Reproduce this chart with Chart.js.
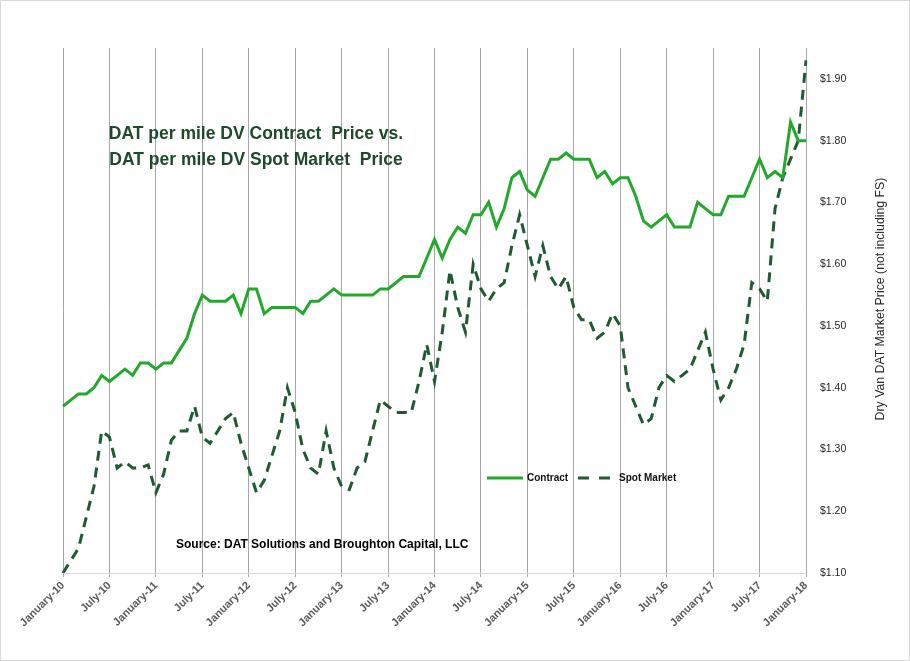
<!DOCTYPE html>
<html>
<head>
<meta charset="utf-8">
<script src="https://cdn.jsdelivr.net/npm/chart.js@4.4.1/dist/chart.umd.min.js"></script>
<style>
html,body{margin:0;padding:0;background:#fff;}
canvas{display:block;}
</style>
</head>
<body>
<canvas id="c" width="910" height="661"></canvas>
<script>
// ---- data ----
const monthNames = ["January","February","March","April","May","June","July","August","September","October","November","December"];
const categories = [];
for (let y = 10; y <= 18; y++) {
  for (let m = 0; m < 12; m++) {
    if (y === 18 && m > 0) break;
    categories.push(monthNames[m] + "-" + y);
  }
}
const contract = [
  1.37,1.38,1.39,1.39,1.40,1.42,1.41,1.42,1.43,1.42,1.44,1.44,
  1.43,1.44,1.44,1.46,1.48,1.52,1.55,1.54,1.54,1.54,1.55,1.52,
  1.56,1.56,1.52,1.53,1.53,1.53,1.53,1.52,1.54,1.54,1.55,1.56,
  1.55,1.55,1.55,1.55,1.55,1.56,1.56,1.57,1.58,1.58,1.58,1.61,
  1.64,1.61,1.64,1.66,1.65,1.68,1.68,1.70,1.66,1.69,1.74,1.75,
  1.72,1.71,1.74,1.77,1.77,1.78,1.77,1.77,1.77,1.74,1.75,1.73,
  1.74,1.74,1.71,1.67,1.66,1.67,1.68,1.66,1.66,1.66,1.70,1.69,
  1.68,1.68,1.71,1.71,1.71,1.74,1.77,1.74,1.75,1.74,1.83,1.80,
  1.80
];
const spotMarket = [
  1.10,1.12,1.14,1.19,1.24,1.33,1.32,1.27,1.28,1.27,1.27,1.275,
  1.23,1.26,1.315,1.33,1.33,1.37,1.32,1.31,1.33,1.35,1.36,1.31,
  1.27,1.23,1.25,1.29,1.33,1.40,1.36,1.30,1.27,1.26,1.33,1.27,
  1.24,1.235,1.27,1.28,1.33,1.38,1.37,1.36,1.36,1.36,1.41,1.47,
  1.41,1.49,1.59,1.53,1.49,1.60,1.56,1.54,1.56,1.57,1.63,1.68,
  1.63,1.58,1.63,1.58,1.56,1.58,1.53,1.51,1.51,1.48,1.49,1.52,
  1.50,1.40,1.37,1.34,1.35,1.40,1.42,1.41,1.42,1.43,1.46,1.49,
  1.43,1.38,1.40,1.43,1.47,1.57,1.56,1.54,1.69,1.74,1.77,1.80,
  1.93
];
const yTickValues = [1.10,1.20,1.30,1.40,1.50,1.60,1.70,1.80,1.90];
const seriesNames = ["Contract","Spot Market"];
const titleLines = ["DAT per mile DV Contract  Price vs.","DAT per mile DV Spot Market  Price"];
const sourceText = "Source: DAT Solutions and Broughton Capital, LLC";
const yTitle = "Dry Van DAT Market Price (not including FS)";

const contractColor = "#22A82A";
const spotColor = "#1E5A32";
const FONT = '"Liberation Sans", Arial, sans-serif';

const decor = {
  id: "decor",
  beforeDraw(chart) {
    const c = chart.ctx;
    c.save();
    c.fillStyle = "#fff";
    c.fillRect(0, 0, chart.width, chart.height);
    c.restore();
  },
  afterDraw(chart) {
    const c = chart.ctx;
    c.save();
    c.strokeStyle = "#D9D9D9";
    c.lineWidth = 1;
    c.strokeRect(0.5, 0.5, chart.width - 1, chart.height - 1);

    // title
    c.fillStyle = "#1D4A2A";
    c.font = 'bold 17.5px ' + FONT;
    c.textAlign = "center";
    c.textBaseline = "middle";
    c.fillText(titleLines[0], 256, 134);
    c.fillText(titleLines[1], 256, 160);

    // source
    c.fillStyle = "#000";
    c.font = 'bold 12px ' + FONT;
    c.textAlign = "left";
    c.fillText(sourceText, 176, 545);

    // legend
    const ly = 478;
    c.lineWidth = 3;
    c.strokeStyle = contractColor;
    c.setLineDash([]);
    c.beginPath(); c.moveTo(487, ly); c.lineTo(523, ly); c.stroke();
    c.strokeStyle = spotColor;
    c.setLineDash([11, 10]);
    c.beginPath(); c.moveTo(578, ly); c.lineTo(611, ly); c.stroke();
    c.setLineDash([]);
    c.fillStyle = "#111";
    c.font = 'bold 10px ' + FONT;
    c.fillText(seriesNames[0], 527, ly);
    c.fillText(seriesNames[1], 619, ly);

    // y axis title
    c.translate(881, 299);
    c.rotate(-Math.PI / 2);
    c.textAlign = "center";
    c.fillStyle = "#262626";
    c.font = '12.3px ' + FONT;
    c.fillText(yTitle, 0, 0);
    c.restore();
  }
};

new Chart(document.getElementById("c"), {
  type: "line",
  data: {
    labels: categories,
    datasets: [
      {
        label: seriesNames[0],
        data: contract,
        borderColor: contractColor,
        borderWidth: 3,
        pointRadius: 0,
        tension: 0,
        fill: false
      },
      {
        label: seriesNames[1],
        data: spotMarket,
        borderColor: spotColor,
        borderWidth: 3,
        borderDash: [10, 7],
        pointRadius: 0,
        tension: 0,
        fill: false
      }
    ]
  },
  options: {
    responsive: false,
    animation: false,
    devicePixelRatio: 1,
    layout: { padding: { top: 48, left: 63, right: 0, bottom: 0 } },
    plugins: {
      legend: { display: false },
      title: { display: false },
      tooltip: { enabled: false }
    },
    scales: {
      x: {
        type: "category",
        offset: false,
        grid: {
          color: (ctx) => (ctx.index % 6 === 0 ? "#A6A6A6" : "rgba(0,0,0,0)"),
          lineWidth: 1,
          drawTicks: true,
          tickLength: 4
        },
        border: { display: true, color: "#D9D9D9", width: 1 },
        ticks: {
          autoSkip: false,
          minRotation: 45,
          maxRotation: 45,
          padding: 2,
          color: "#595959",
          font: { family: FONT, size: 11, weight: "bold" },
          callback: function (val, idx) { return idx % 6 === 0 ? this.getLabelForValue(val) : ""; }
        },
        afterFit: (s) => { s.height = 88; }
      },
      y: {
        position: "right",
        min: 1.10,
        max: 1.95,
        grid: { display: false, drawTicks: false },
        border: { display: false },
        afterBuildTicks: (s) => { s.ticks = yTickValues.map(v => ({ value: v })); },
        ticks: {
          padding: 14,
          color: "#262626",
          font: { family: FONT, size: 10.5 },
          callback: (v) => "$" + Number(v).toFixed(2)
        },
        afterFit: (s) => { s.width = 104; }
      }
    }
  },
  plugins: [decor]
});
</script>
</body>
</html>
